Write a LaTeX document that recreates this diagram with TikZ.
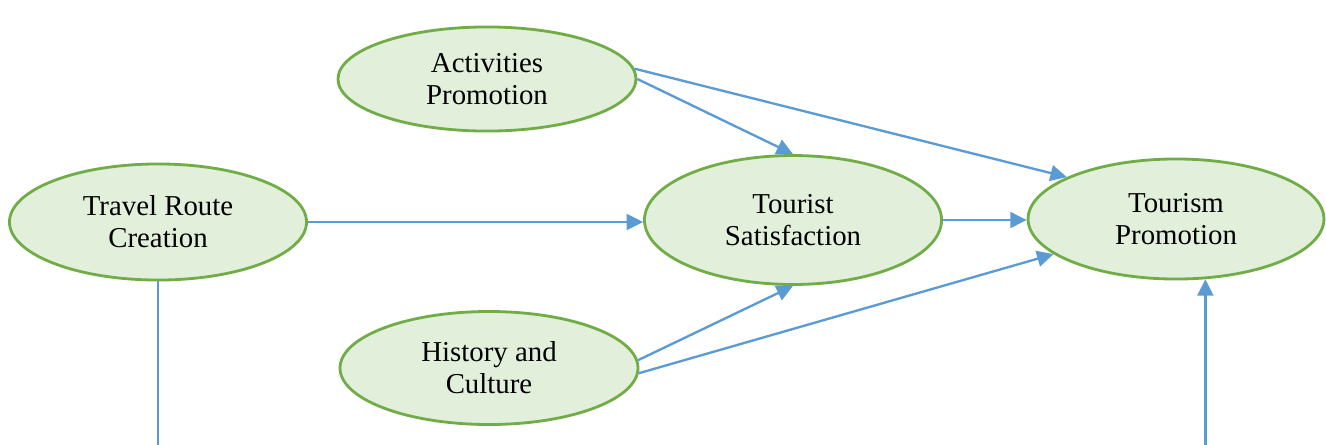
\documentclass[tikz,border=0pt]{standalone}
\usepackage{fontspec}
\setmainfont{Liberation Serif}
\usetikzlibrary{shapes.geometric,arrows.meta}
\definecolor{linkblue}{HTML}{5B9BD5}
\definecolor{ovalfill}{HTML}{E2EFDA}
\definecolor{ovaldraw}{HTML}{70AD47}
\tikzset{
	oval/.style={draw=ovaldraw, fill=ovalfill, ellipse, line width=1.2pt, inner sep=0pt, align=center, font=\fontsize{12.3}{13.7}\selectfont},
	link/.style={draw=linkblue, line width=1pt, -{Triangle[length=7pt, width=6.8pt]}}
}
\begin{document}
\begin{tikzpicture}[x=0.4265pt, y=-0.4265pt]
	\useasboundingbox (0,0) rectangle (1326,444);
	\node[oval, minimum width=127.1pt, minimum height=44.4pt] (act) at (487,79) {Activities\\Promotion};
	\node[oval, minimum width=126.7pt, minimum height=49.5pt] (tr) at (158,222) {Travel Route\\Creation};
	\node[oval, minimum width=126.7pt, minimum height=55pt] (ts) at (793,220) {Tourist\\Satisfaction};
	\node[oval, minimum width=127.1pt, minimum height=48.2pt] (hc) at (489,368) {History and\\Culture};
	\node[oval, minimum width=126.2pt, minimum height=51.2pt] (tp) at (1176,219) {Tourism\\Promotion};
	\coordinate (base) at (0,447.5);
	\draw[link] (act.4) -- (tp.159);
	\draw[link] (act.east) -- (ts.north);
	\draw[link] (tr.east) -- (tr.east -| ts.west);
	\draw[link] (ts.east) -- (ts.east -| tp.west);
	\draw[link] (hc.3) -- (ts.south);
	\draw[link] (hc.-2) -- (tp.196);
	\draw[link] (tr.south) |- (base -| tp.-64) -- (tp.-64);
\end{tikzpicture}
\end{document}
